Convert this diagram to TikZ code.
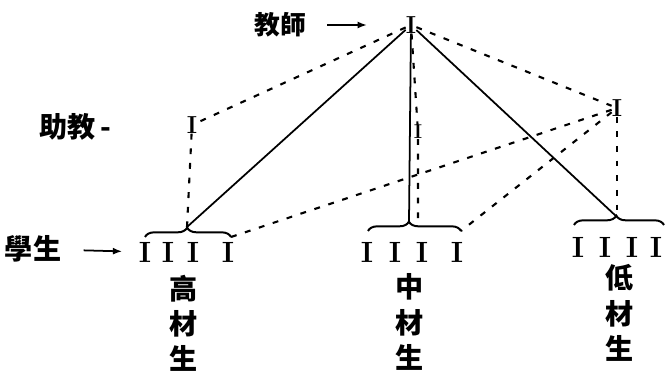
\documentclass[tikz,border=0pt]{standalone}
\usepackage{fontspec}
\newfontfamily\cjk{Noto Sans CJK TC}
\usepackage{tikz}
\usetikzlibrary{arrows.meta,decorations.pathreplacing,positioning}

\begin{document}
\begin{tikzpicture}[x=0.03cm, y=-0.03cm,
    man/.style={inner sep=0pt, font=\fontsize{21}{21}\selectfont\bfseries},
    pupil/.style={inner sep=0pt, font=\fontsize{25}{25}\selectfont\bfseries},
    lbl/.style={inner sep=1pt, font=\cjk\bfseries\fontsize{24}{30}\selectfont},
    col/.style={lbl, align=center},
    solidline/.style={line width=1.5pt},
    dashline/.style={line width=1.8pt, dash pattern=on 5pt off 7.5pt},
    brc/.style={line width=1.7pt, decorate, decoration={brace, amplitude=8pt, aspect=#1}},
    pointer/.style={line width=1.5pt, -{Latex[length=8pt, width=6pt]}}]
		\useasboundingbox (0,0) rectangle (665,375);

		% teacher and assistants
		\node[man] (tch) at (411,25) {I};
		\node[man] (astL) at (192,125) {I};
		\node[man, font=\fontsize{17}{17}\selectfont\bfseries] (astM) at (418,132) {I};
		\node[man] (astR) at (617,108) {I};

		\node[lbl, font=\cjk\bfseries\fontsize{22}{26}\selectfont] (tchLbl) at (280,25) {教師};
		\node[lbl, anchor=west] (astLbl) at (38,127) {助教\,-};
		\node[lbl] (stuLbl) at (33,249) {學生};

		\draw[pointer, shorten <=17pt, shorten >=33pt] (tchLbl) -- (tch);

		% high group
		\coordinate (lbL) at (145,237);
		\coordinate (lbR) at (231,237);
		\coordinate (ltip) at (187,227);
		\draw[brc=0.49] (lbL) -- (lbR);
		\node[pupil] (l1) at (145,252) {I};
		\node[pupil] (l2) at (168,252) {I};
		\node[pupil] (l3) at (193,252) {I};
		\node[pupil] (l4) at (228,252) {I};
		\node[col] (hiLbl) at (184,323) {高\\材\\生};

		% middle group
		\coordinate (mbL) at (368,231);
		\coordinate (mbR) at (461,231);
		\coordinate (mtip) at (409,222);
		\coordinate (mtipR) at (418,223);
		\draw[brc=0.44] (mbL) -- (mbR);
		\node[pupil] (m1) at (367,252) {I};
		\node[pupil] (m2) at (395,252) {I};
		\node[pupil] (m3) at (422,252) {I};
		\node[pupil] (m4) at (457,252) {I};
		\node[col] (midLbl) at (410,322) {中\\材\\生};

		% low group
		\coordinate (rbL) at (574,225);
		\coordinate (rbR) at (664,225);
		\coordinate (rtip) at (617,217);
		\draw[brc=0.47] (rbL) -- (rbR);
		\node[pupil] (r1) at (578,247) {I};
		\node[pupil] (r2) at (605,247) {I};
		\node[pupil] (r3) at (632,247) {I};
		\node[pupil] (r4) at (656,247) {I};
		\node[col] (lowLbl) at (620,313) {低\\材\\生};

		\draw[pointer, shorten <=18pt, shorten >=14pt] (stuLbl) -- (l1);

		% teacher teaches directly
		\draw[solidline] (tch) -- (ltip);
		\draw[solidline] (tch) -- (mtip);
		\draw[solidline] (tch) -- (rtip);

		% through the assistants
		\draw[dashline] (tch) -- (astL);
		\draw[dashline] (astL) -- (ltip);
		\draw[dashline] (tch) -- (astM) -- (mtipR);
		\draw[dashline] (tch) -- (astR);
		\draw[dashline] (astR) -- (lbR);
		\draw[dashline] (astR) -- (mbR);
		\draw[dashline] (astR) -- (rtip);
	\end{tikzpicture}
\end{document}
